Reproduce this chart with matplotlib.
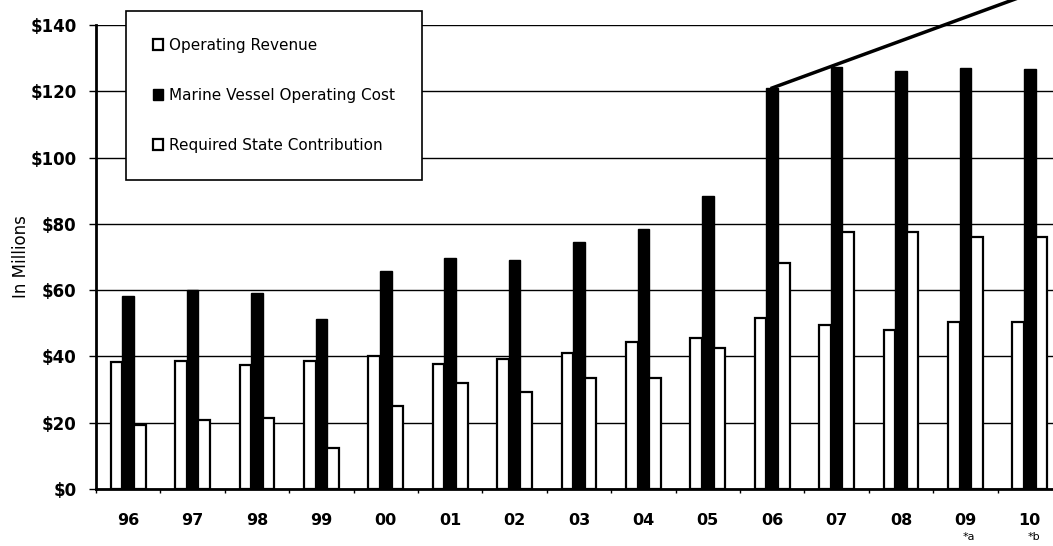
import matplotlib
matplotlib.use('Agg')
import matplotlib.pyplot as plt
import numpy as np
from matplotlib.ticker import FuncFormatter, FixedLocator

years = ['96', '97', '98', '99', '00', '01', '02', '03', '04', '05', '06', '07', '08', '09', '10']
revenue = [38.4, 38.5, 37.4, 38.6, 40.2, 37.7, 39.1, 41.1, 44.4, 45.5, 51.7, 49.5, 48.0, 50.5, 50.5]
vessel_cost = [58.2, 60.0, 59.0, 51.3, 65.8, 69.7, 69.1, 74.6, 78.4, 88.4, 121.0, 127.3, 126.1, 126.9, 126.8]
state_contrib = [19.3, 20.8, 21.5, 12.5, 25.1, 31.9, 29.2, 33.5, 33.4, 42.6, 68.1, 77.5, 77.5, 76.0, 76.0]
footnotes = {'09': '*a', '10': '*b'}
# trend line starting at the 06 cost bar, running off the top right
trend_x = [10, 14.5]
trend_y = [121.0, 153.0]

plt.rcParams['font.family'] = 'DejaVu Sans'

fig = plt.figure(figsize=(10.53, 5.46), dpi=100)
ax = fig.add_axes([0.0912, 0.1044, 0.9173, 0.8498])

x = np.arange(len(years))
w = 0.18
ax.bar(x - w, revenue, w, color='white', edgecolor='black', linewidth=1.6,
       label='Operating Revenue', zorder=3)
ax.bar(x, vessel_cost, w, color='black', edgecolor='black', linewidth=1.0,
       label='Marine Vessel Operating Cost', zorder=3)
ax.bar(x + w, state_contrib, w, color='white', edgecolor='black', linewidth=1.6,
       label='Required State Contribution', zorder=3)

ax.plot(trend_x, trend_y, color='black', linewidth=2.5, clip_on=False, zorder=4)

ax.set_xlim(-0.5, len(years) - 0.5)
ax.set_ylim(0, 140)
ax.set_yticks(np.arange(0, 141, 20))
ax.yaxis.set_major_formatter(FuncFormatter(lambda v, p: '$%d' % v))
ax.set_xticks(x)
ax.set_xticklabels(years, fontsize=11.5, fontweight='bold')
ax.xaxis.set_minor_locator(FixedLocator(np.arange(-0.5, len(years), 1)))
ax.tick_params(axis='x', which='major', length=0, pad=17)
ax.tick_params(axis='x', which='minor', length=3, width=1, direction='out')
ax.tick_params(axis='y', length=5, width=1, pad=9, labelsize=12)
for t in ax.get_yticklabels():
    t.set_fontweight('bold')

ax.grid(True, axis='y', color='black', linewidth=1, zorder=0)
ax.set_axisbelow(True)
ax.spines['right'].set_visible(False)
ax.spines['top'].set_visible(False)
ax.spines['left'].set_linewidth(2)
ax.spines['bottom'].set_linewidth(2)

ax.set_ylabel('In Millions', fontsize=12)
ax.yaxis.set_label_coords(-0.068, 0.5)

for yr, note in footnotes.items():
    ax.text(years.index(yr) + 0.06, -0.103, note, transform=ax.get_xaxis_transform(),
            ha='center', va='center', fontsize=8)

leg = fig.legend(loc='upper left', bbox_to_anchor=(0.1197, 0.98), fontsize=11,
                 frameon=True, fancybox=False, framealpha=1, edgecolor='black',
                 borderpad=1.75, labelspacing=2.3, handlelength=0.7, handleheight=0.7,
                 handletextpad=0.35, borderaxespad=0)
leg.get_frame().set_linewidth(1.2)
leg.set_zorder(10)

fig.savefig('out.png', dpi=100)
